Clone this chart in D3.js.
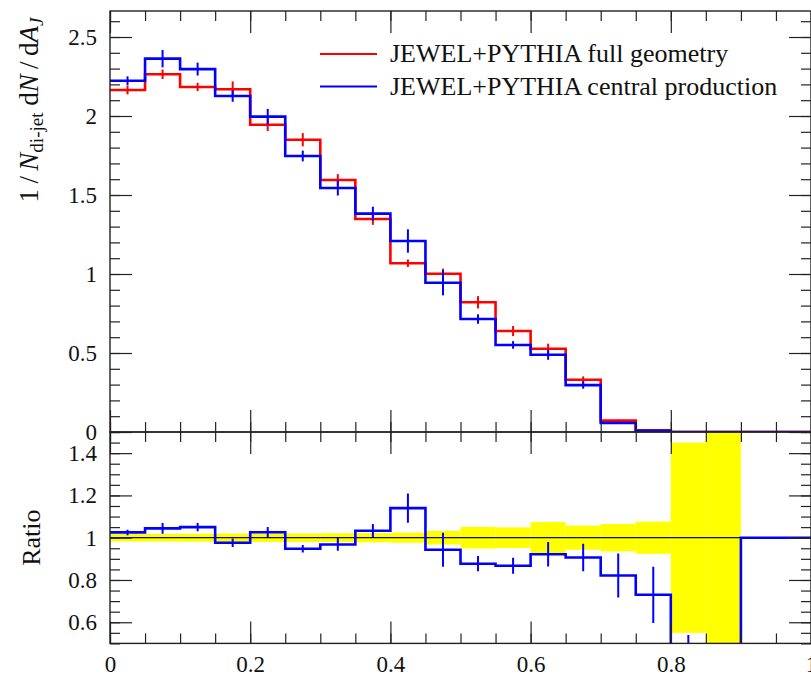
<!DOCTYPE html>
<html>
<head>
<meta charset="utf-8">
<script src="https://cdn.jsdelivr.net/npm/d3@7"></script>
<style>
  body { margin: 0; background: #fff; }
  svg { display: block; }
  text { font-family: "Liberation Serif", "DejaVu Serif", serif; fill: #111; }
</style>
</head>
<body>
<svg id="chart" width="811" height="677"></svg>
<script>
// ---- data: di-jet asymmetry A_J, bins of 0.05 ----
const binEdges = [0, 0.05, 0.1, 0.15, 0.2, 0.25, 0.3, 0.35, 0.4, 0.45, 0.5,
                  0.55, 0.6, 0.65, 0.7, 0.75, 0.8, 0.85, 0.9, 0.95, 1];

const fullGeometry    = [2.165, 2.264, 2.184, 2.169, 1.945, 1.850, 1.595, 1.348, 1.068, 1.002,
                         0.821, 0.639, 0.527, 0.331, 0.072, 0.011, 0, 0, 0, 0];
const fullGeometryErr = [0.028, 0.030, 0.026, 0.050, 0.040, 0.042, 0.037, 0.037, 0.024, 0.032,
                         0.039, 0.032, 0.032, 0.021, 0.006, 0.002, 0, 0, 0, 0];

const centralProduction    = [2.223, 2.363, 2.297, 2.127, 1.996, 1.747, 1.544, 1.382, 1.209, 0.945,
                              0.715, 0.551, 0.489, 0.297, 0.057, 0.008, 0, 0, 0, 0];
const centralProductionErr = [0.028, 0.055, 0.041, 0.037, 0.049, 0.034, 0.047, 0.044, 0.074, 0.080,
                              0.030, 0.024, 0.032, 0.023, 0.006, 0.002, 0, 0, 0, 0];

// central production / full geometry
const ratioCentral    = [1.025, 1.044, 1.050, 0.976, 1.026, 0.948, 0.968, 1.033, 1.140, 0.943,
                         0.877, 0.867, 0.922, 0.906, 0.821, 0.730, 0.35, 0.20, 1, 1];
const ratioCentralErr = [0.013, 0.025, 0.020, 0.020, 0.025, 0.018, 0.030, 0.032, 0.069, 0.080,
                         0.036, 0.038, 0.058, 0.065, 0.104, 0.133, 0.19, 0.10, 0, 0];
// relative uncertainty of the full-geometry reference
const ratioBand = [0.018, 0.018, 0.019, 0.020, 0.020, 0.020, 0.021, 0.022, 0.024, 0.032,
                   0.051, 0.049, 0.074, 0.057, 0.065, 0.076, 0.45, 0.70, 0, 0];

const mainTicks  = [0, 0.5, 1, 1.5, 2, 2.5];
const ratioTicks = [0.6, 0.8, 1, 1.2, 1.4];
const xTicks     = [0, 0.2, 0.4, 0.6, 0.8, 1];
const legendLabels = ["JEWEL+PYTHIA full geometry", "JEWEL+PYTHIA central production"];
const seriesColors = ["#ff0000", "#0000ff"];

// ---- layout ----
const padLeft = 110, padRight = 811, padTop = 11, split = 432, padBottom = 643.4;
const svg = d3.select("#chart");

const x = d3.scaleLinear().domain([0, 1]).range([padLeft, padRight]);
const yMain = d3.scaleLinear().domain([0, 2.6646]).range([split, padTop]);
const yRatio = d3.scaleLinear().domain([0.5, 1.5]).range([padBottom, split]);

const defs = svg.append("defs");
defs.append("clipPath").attr("id", "clipMain")
  .append("rect").attr("x", padLeft).attr("y", padTop).attr("width", padRight - padLeft).attr("height", split - padTop);
defs.append("clipPath").attr("id", "clipRatio")
  .append("rect").attr("x", padLeft).attr("y", split).attr("width", padRight - padLeft).attr("height", padBottom - split);

function stepPoints(vals) {
  const pts = [];
  vals.forEach((v, i) => { pts.push([binEdges[i], v]); pts.push([binEdges[i + 1], v]); });
  return pts;
}
const centers = binEdges.slice(0, -1).map((e, i) => (e + binEdges[i + 1]) / 2);

function drawSeries(g, yScale, vals, errs, color) {
  const line = d3.line().x(d => x(d[0])).y(d => yScale(d[1]));
  g.append("path").attr("d", line(stepPoints(vals)))
    .attr("fill", "none").attr("stroke", color).attr("stroke-width", 2.6)
    .attr("stroke-linejoin", "miter");
  g.selectAll(null).data(vals.map((v, i) => ({ v, e: errs[i], c: centers[i] })).filter(d => d.e > 0))
    .join("line")
    .attr("x1", d => x(d.c)).attr("x2", d => x(d.c))
    .attr("y1", d => yScale(d.v - d.e)).attr("y2", d => yScale(d.v + d.e))
    .attr("stroke", color).attr("stroke-width", 2);
}

// ---- main panel ----
const mainG = svg.append("g").attr("clip-path", "url(#clipMain)");
drawSeries(mainG, yMain, fullGeometry, fullGeometryErr, seriesColors[0]);
drawSeries(mainG, yMain, centralProduction, centralProductionErr, seriesColors[1]);

// ---- ratio panel ----
const ratioG = svg.append("g").attr("clip-path", "url(#clipRatio)");
ratioG.selectAll("rect.band").data(ratioBand.map((b, i) => ({ b, i })).filter(d => d.b > 0))
  .join("rect").attr("class", "band")
  .attr("x", d => x(binEdges[d.i])).attr("width", d => x(binEdges[d.i + 1]) - x(binEdges[d.i]))
  .attr("y", d => yRatio(1 + d.b)).attr("height", d => yRatio(1 - d.b) - yRatio(1 + d.b))
  .attr("fill", "#ffff00");
ratioG.append("line").attr("x1", padLeft).attr("x2", padRight)
  .attr("y1", yRatio(1)).attr("y2", yRatio(1)).attr("stroke", "#111").attr("stroke-width", 1.2);
drawSeries(ratioG, yRatio, ratioCentral, ratioCentralErr, seriesColors[1]);

// ---- axes ----
const minorX = d3.range(0, 1.0001, 0.05);
const minorMain = d3.range(0, 2.66, 0.1);
const minorRatio = d3.range(0.5, 1.5001, 0.05);
const fmt = d3.format("~g");

function styleAxis(g) {
  g.select(".domain").remove();
  g.attr("font-family", '"Liberation Serif", "DejaVu Serif", serif').attr("font-size", 23)
   .attr("color", "#222");
  g.selectAll(".tick line").attr("stroke-width", 1.2);
}
function addAxis(axis, tx, ty) {
  svg.append("g").attr("transform", `translate(${tx},${ty})`).call(axis).call(styleAxis);
}

// main panel: left labelled, right / top / bottom ticks only
addAxis(d3.axisLeft(yMain).tickValues(mainTicks).tickSize(-22).tickPadding(13).tickFormat(fmt), padLeft, 0);
addAxis(d3.axisLeft(yMain).tickValues(minorMain).tickSize(-10).tickFormat(""), padLeft, 0);
addAxis(d3.axisRight(yMain).tickValues(mainTicks).tickSize(-22).tickFormat(""), padRight, 0);
addAxis(d3.axisRight(yMain).tickValues(minorMain).tickSize(-10).tickFormat(""), padRight, 0);
addAxis(d3.axisTop(x).tickValues(xTicks).tickSize(-22).tickFormat(""), 0, padTop);
addAxis(d3.axisTop(x).tickValues(minorX).tickSize(-10).tickFormat(""), 0, padTop);
addAxis(d3.axisBottom(x).tickValues(xTicks).tickSize(-22).tickFormat(""), 0, split);
addAxis(d3.axisBottom(x).tickValues(minorX).tickSize(-10).tickFormat(""), 0, split);

// ratio panel
addAxis(d3.axisLeft(yRatio).tickValues(ratioTicks).tickSize(-22).tickPadding(13).tickFormat(fmt), padLeft, 0);
addAxis(d3.axisLeft(yRatio).tickValues(minorRatio).tickSize(-10).tickFormat(""), padLeft, 0);
addAxis(d3.axisRight(yRatio).tickValues(ratioTicks).tickSize(-22).tickFormat(""), padRight, 0);
addAxis(d3.axisRight(yRatio).tickValues(minorRatio).tickSize(-10).tickFormat(""), padRight, 0);
addAxis(d3.axisTop(x).tickValues(xTicks).tickSize(-22).tickFormat(""), 0, split);
addAxis(d3.axisTop(x).tickValues(minorX).tickSize(-10).tickFormat(""), 0, split);
addAxis(d3.axisBottom(x).tickValues(xTicks).tickSize(-22).tickPadding(12).tickFormat(fmt), 0, padBottom);
addAxis(d3.axisBottom(x).tickValues(minorX).tickSize(-10).tickFormat(""), 0, padBottom);

// frames
[[padTop, split], [split, padBottom]].forEach(([y0, y1]) => {
  svg.append("rect").attr("x", padLeft).attr("y", y0).attr("width", padRight - padLeft).attr("height", y1 - y0)
    .attr("fill", "none").attr("stroke", "#222").attr("stroke-width", 1.4);
});

// ---- axis titles ----
const yTitle = svg.append("text").attr("transform", "translate(38,110) rotate(-90)")
  .attr("text-anchor", "middle").attr("font-size", 27);
yTitle.append("tspan").text("1\u2009/\u2009");
yTitle.append("tspan").attr("font-style", "italic").text("N");
yTitle.append("tspan").attr("font-size", 19).attr("dy", 5).text("di-jet");
yTitle.append("tspan").attr("dy", -5).text(" d");
yTitle.append("tspan").attr("font-style", "italic").text("N");
yTitle.append("tspan").text("\u2009/\u2009d");
yTitle.append("tspan").attr("font-style", "italic").text("A");
yTitle.append("tspan").attr("font-style", "italic").attr("font-size", 19).attr("dy", 5).text("J");

svg.append("text").attr("transform", `translate(40,${yRatio(1)}) rotate(-90)`)
  .attr("text-anchor", "middle").attr("font-size", 26).text("Ratio");

// ---- legend ----
const legend = svg.append("g");
legendLabels.forEach((lab, i) => {
  const ly = 54 + i * 32.5;
  legend.append("line").attr("x1", 320).attr("x2", 377).attr("y1", ly).attr("y2", ly)
    .attr("stroke", seriesColors[i]).attr("stroke-width", 2);
  legend.append("text").attr("x", 390).attr("y", ly + 8).attr("font-size", 26).text(lab);
});
</script>
</body>
</html>
